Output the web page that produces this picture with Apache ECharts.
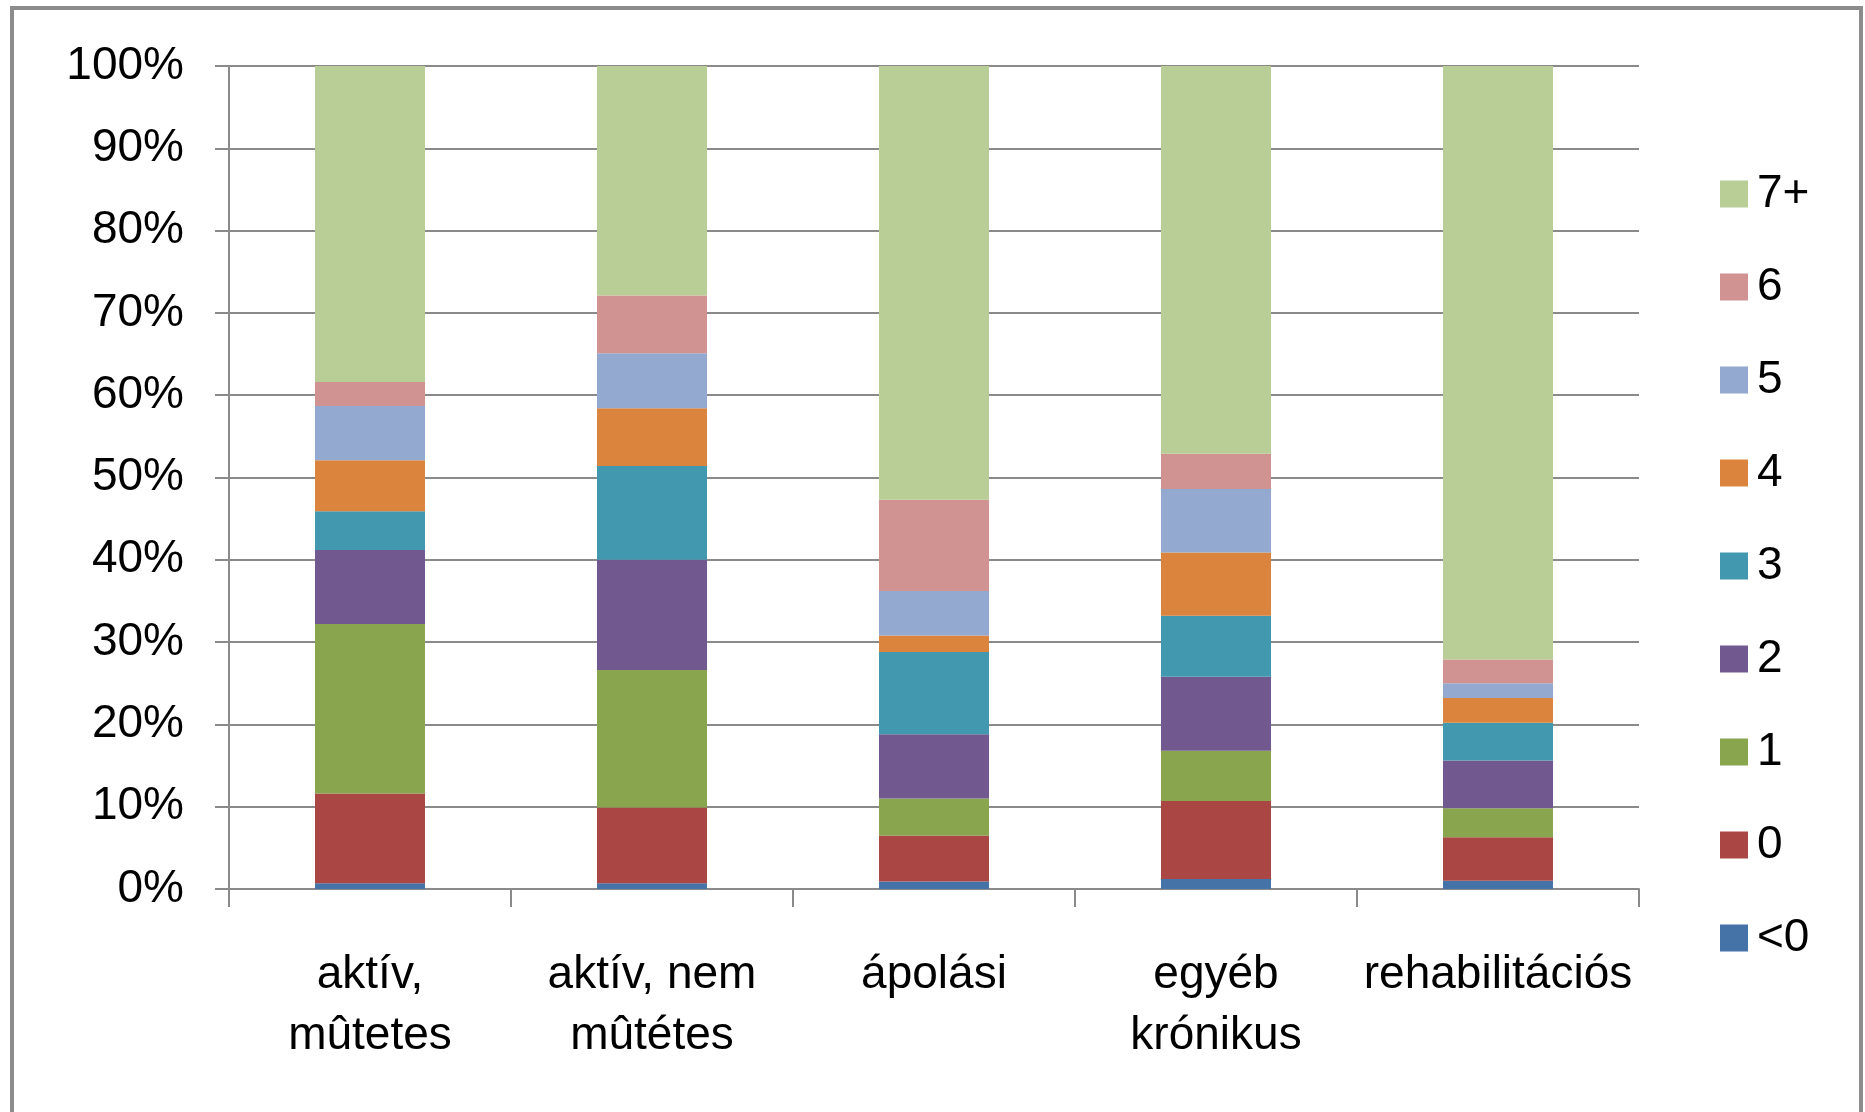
<!DOCTYPE html>
<html>
<head>
<meta charset="utf-8">
<script src="https://cdn.jsdelivr.net/npm/echarts@6/dist/echarts.min.js"></script>
<style>
  html, body { margin: 0; padding: 0; background: #fff; }
  #chart { width: 1865px; height: 1112px; }
</style>
</head>
<body>
<div id="chart"></div>
<script>
// kategóriák (osztálytípusok)
const categories = ["aktív,\nmûtetes", "aktív, nem\nmûtétes", "ápolási", "egyéb\nkrónikus", "rehabilitációs"];
const seriesNames = ["<0", "0", "1", "2", "3", "4", "5", "6", "7+"];
const colors = ["#4572A7", "#AA4643", "#89A54E", "#71588F", "#4198AF", "#DB843D", "#93A9CF", "#D19392", "#B9CD96"];

// százalékos megoszlás, kategóriánként
const vLt0 = [0.7, 0.7, 0.9, 1.2, 1.0];
const v0   = [10.9, 9.2, 5.6, 9.5, 5.3];
const v1   = [20.6, 16.7, 4.5, 6.1, 3.5];
const v2   = [9.0, 13.4, 7.8, 9.0, 5.8];
const v3   = [4.7, 11.4, 10.0, 7.4, 4.6];
const v4   = [6.2, 7.0, 2.0, 7.7, 3.0];
const v5   = [6.6, 6.7, 5.4, 7.7, 1.8];
const v6   = [2.9, 7.0, 11.1, 4.3, 2.9];
const v7p  = [38.4, 27.9, 52.7, 47.1, 72.1];
const values = [vLt0, v0, v1, v2, v3, v4, v5, v6, v7p];

const yTicks = [0, 10, 20, 30, 40, 50, 60, 70, 80, 90, 100];

const font = "'Liberation Sans', Arial, sans-serif";
const gray = "#8a8a8a";

const chart = echarts.init(document.getElementById("chart"));

const series = seriesNames.map((name, i) => ({
  name: name,
  type: "bar",
  stack: "total",
  barWidth: 110,
  data: values[i],
  itemStyle: { color: colors[i] },
  emphasis: { disabled: true }
}));

chart.setOption({
  animation: false,
  textStyle: { fontFamily: font },
  grid: {
    left: 229,
    right: 226,
    top: 66,
    bottom: 223,
    containLabel: false
  },
  legend: {
    orient: "vertical",
    left: 1715,
    top: 166,
    itemWidth: 28,
    itemHeight: 27,
    itemGap: 47,
    icon: "rect",
    data: seriesNames.slice().reverse(),
    textStyle: { fontSize: 46, color: "#000", fontFamily: font, padding: [0, 0, 0, 4] }
  },
  xAxis: {
    type: "category",
    data: categories,
    axisLine: { show: true, lineStyle: { color: gray, width: 2 } },
    axisTick: { show: true, length: 18, lineStyle: { color: gray, width: 2 } },
    axisLabel: {
      fontSize: 46,
      lineHeight: 61,
      color: "#000",
      margin: 56,
      interval: 0,
      fontFamily: font
    },
    splitLine: { show: false }
  },
  yAxis: {
    type: "value",
    min: yTicks[0],
    max: yTicks[yTicks.length - 1],
    interval: 10,
    axisLine: { show: true, lineStyle: { color: gray, width: 2 } },
    axisTick: { show: true, inside: false, length: 14, lineStyle: { color: gray, width: 2 } },
    axisLabel: {
      fontSize: 46,
      color: "#000",
      margin: 45,
      fontFamily: font,
      formatter: v => v + "%"
    },
    splitLine: { show: true, lineStyle: { color: gray, width: 2 } }
  },
  graphic: [
    {
      type: "rect",
      shape: { x: 12, y: 8, width: 1849, height: 1200 },
      style: { fill: "none", stroke: "#8c8c8c", lineWidth: 4 },
      silent: true
    }
  ],
  series: series
});
</script>
</body>
</html>
